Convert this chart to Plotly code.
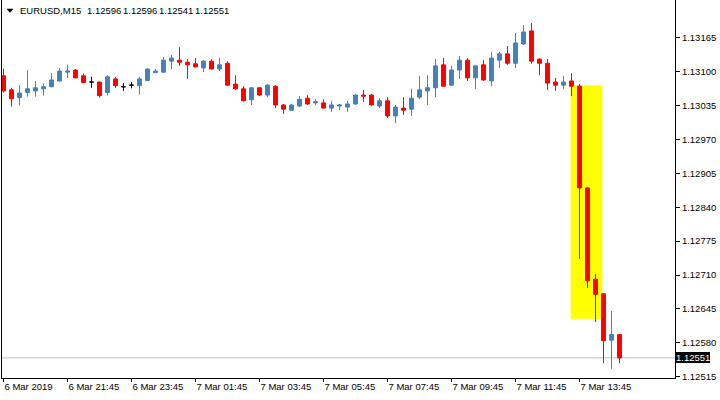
import plotly.graph_objects as go

# EURUSD M15, 6 Mar 2019 19:45 .. 7 Mar 2019 15:00 (one bar every 15 min)
opens = [
    1.13092, 1.13065, 1.13050, 1.13060, 1.13063, 1.13067, 1.13071, 1.13082,
    1.13099, 1.13103, 1.13092, 1.13080, 1.13080, 1.13060, 1.13086, 1.13071,
    1.13074, 1.13073, 1.13083, 1.13098, 1.13099, 1.13120, 1.13122, 1.13118,
    1.13115, 1.13107, 1.13120, 1.13105, 1.13116, 1.13076, 1.13067, 1.13046,
    1.13069, 1.13055, 1.13072, 1.13036, 1.13026, 1.13034, 1.13049, 1.13040,
    1.13040, 1.13030, 1.13034, 1.13032, 1.13038, 1.13055, 1.13055, 1.13034,
    1.13044, 1.13015, 1.13030, 1.13028, 1.13051, 1.13063, 1.13069, 1.13113,
    1.13074, 1.13103, 1.13122, 1.13088, 1.13113, 1.13082, 1.13122, 1.13134,
    1.13116, 1.13153, 1.13178, 1.13124, 1.13116, 1.13080, 1.13074, 1.13082,
    1.13072, 1.12877, 1.12702, 1.12674, 1.12585, 1.12596,
]
highs = [
    1.13106, 1.13069, 1.13074, 1.13103, 1.13082, 1.13077, 1.13097, 1.13107,
    1.13113, 1.13105, 1.13096, 1.13090, 1.13081, 1.13093, 1.13090, 1.13078,
    1.13080, 1.13090, 1.13106, 1.13105, 1.13128, 1.13132, 1.13147, 1.13124,
    1.13126, 1.13122, 1.13124, 1.13126, 1.13120, 1.13093, 1.13072, 1.13070,
    1.13070, 1.13076, 1.13074, 1.13038, 1.13038, 1.13053, 1.13055, 1.13047,
    1.13047, 1.13044, 1.13038, 1.13044, 1.13057, 1.13065, 1.13057, 1.13049,
    1.13051, 1.13036, 1.13051, 1.13067, 1.13092, 1.13093, 1.13124, 1.13126,
    1.13111, 1.13130, 1.13126, 1.13112, 1.13122, 1.13138, 1.13138, 1.13149,
    1.13174, 1.13189, 1.13193, 1.13125, 1.13124, 1.13088, 1.13092, 1.13097,
    1.13076, 1.12879, 1.12712, 1.12674, 1.12641, 1.12596,
]
lows = [
    1.13060, 1.13033, 1.13035, 1.13052, 1.13052, 1.13054, 1.13070, 1.13081,
    1.13088, 1.13087, 1.13078, 1.13069, 1.13050, 1.13054, 1.13069, 1.13063,
    1.13068, 1.13056, 1.13082, 1.13098, 1.13097, 1.13105, 1.13111, 1.13086,
    1.13108, 1.13099, 1.13104, 1.13101, 1.13072, 1.13065, 1.13043, 1.13036,
    1.13053, 1.13051, 1.13030, 1.13019, 1.13025, 1.13032, 1.13036, 1.13036,
    1.13029, 1.13023, 1.13026, 1.13023, 1.13036, 1.13042, 1.13035, 1.13030,
    1.13011, 1.13001, 1.13017, 1.13015, 1.13047, 1.13036, 1.13051, 1.13071,
    1.13072, 1.13086, 1.13082, 1.13067, 1.13082, 1.13072, 1.13107, 1.13113,
    1.13107, 1.13151, 1.13115, 1.13093, 1.13065, 1.13063, 1.13067, 1.13053,
    1.12741, 1.12685, 1.12620, 1.12541, 1.12530, 1.12541,
]
closes = [
    1.13063, 1.13048, 1.13059, 1.13067, 1.13069, 1.13071, 1.13084, 1.13101,
    1.13101, 1.13088, 1.13079, 1.13080, 1.13054, 1.13090, 1.13073, 1.13071,
    1.13074, 1.13086, 1.13105, 1.13101, 1.13122, 1.13126, 1.13118, 1.13113,
    1.13109, 1.13120, 1.13105, 1.13113, 1.13074, 1.13067, 1.13044, 1.13069,
    1.13055, 1.13074, 1.13036, 1.13028, 1.13036, 1.13047, 1.13038, 1.13042,
    1.13030, 1.13036, 1.13036, 1.13038, 1.13055, 1.13053, 1.13036, 1.13044,
    1.13015, 1.13032, 1.13026, 1.13049, 1.13065, 1.13069, 1.13111, 1.13072,
    1.13103, 1.13122, 1.13088, 1.13111, 1.13084, 1.13126, 1.13134, 1.13116,
    1.13155, 1.13176, 1.13120, 1.13116, 1.13078, 1.13074, 1.13080, 1.13072,
    1.12877, 1.12699, 1.12673, 1.12584, 1.12596, 1.12551,
]

# one time label every 8 bars (2 hours), MT4 style
time_labels = ["6 Mar 2019", "6 Mar 21:45", "6 Mar 23:45", "7 Mar 01:45",
               "7 Mar 03:45", "7 Mar 05:45", "7 Mar 07:45", "7 Mar 09:45",
               "7 Mar 11:45", "7 Mar 13:45"]
price_ticks = [1.12515, 1.12580, 1.12645, 1.12710, 1.12775, 1.12840,
               1.12905, 1.12970, 1.13035, 1.13100, 1.13165]

symbol = "EURUSD,M15"
last_price = 1.12551
# highlighted zone (bar index from/to, price from/to)
zone_bars = (70.9, 74.85)
zone_prices = (1.12626, 1.13074)

bars = list(range(len(opens)))
normal = [i for i in bars if opens[i] != closes[i]]
doji = [i for i in bars if opens[i] == closes[i]]

FONT = "Liberation Sans"
PLOT_W, PLOT_H = 673, 378  # plot area in px, used to place the header


def px_x(px):
    return (px - 2) / PLOT_W


def px_y(px):
    return 1 - px / PLOT_H


fig = go.Figure()
fig.add_trace(go.Candlestick(
    x=normal,
    open=[opens[i] for i in normal], high=[highs[i] for i in normal],
    low=[lows[i] for i in normal], close=[closes[i] for i in normal],
    increasing=dict(line=dict(color="#4682B4", width=1), fillcolor="#4682B4"),
    decreasing=dict(line=dict(color="#FF0000", width=1), fillcolor="#FF0000"),
    whiskerwidth=0, hoverinfo="skip",
))
fig.add_trace(go.Candlestick(
    x=doji,
    open=[opens[i] for i in doji], high=[highs[i] for i in doji],
    low=[lows[i] for i in doji], close=[closes[i] for i in doji],
    increasing=dict(line=dict(color="#000000", width=1), fillcolor="#000000"),
    decreasing=dict(line=dict(color="#000000", width=1), fillcolor="#000000"),
    whiskerwidth=0, hoverinfo="skip",
))

fig.add_shape(type="rect", xref="x", yref="y",
              x0=zone_bars[0], x1=zone_bars[1], y0=zone_prices[0], y1=zone_prices[1],
              fillcolor="#FFFF00", line=dict(width=0), layer="below")
fig.add_shape(type="line", xref="paper", yref="y", x0=0, x1=1,
              y0=last_price, y1=last_price,
              line=dict(color="#C0C0C0", width=1), layer="below")

fig.add_annotation(xref="paper", yref="y", x=1, y=last_price, xanchor="left",
                   xshift=1, text=f"{last_price:.5f}", showarrow=False,
                   bgcolor="#000000", borderpad=0, borderwidth=0,
                   font=dict(family=FONT, size=9.5, color="#FFFFFF"))

# header: small triangle, symbol and the last bar's O H L C
fig.add_shape(type="path", xref="paper", yref="paper",
              path=f"M {px_x(7)},{px_y(9)} L {px_x(13)},{px_y(9)} "
                   f"L {px_x(10)},{px_y(12.5)} Z",
              fillcolor="#000000", line=dict(color="#000000", width=0.5))
header = [symbol] + [f"{v:.5f}" for v in (opens[-1], highs[-1], lows[-1], closes[-1])]
header_px = [18, 85, 121, 157, 193]
for txt, px in zip(header, header_px):
    fig.add_annotation(xref="paper", yref="paper", x=px_x(px), y=px_y(10.7),
                       xanchor="left", yanchor="middle", text=txt, showarrow=False,
                       font=dict(family=FONT, size=9.5, color="#000000"))

fig.update_layout(
    width=720, height=400,
    margin=dict(l=2, r=45, t=0, b=22),
    paper_bgcolor="white", plot_bgcolor="white",
    showlegend=False,
    font=dict(family=FONT, size=9.5, color="#000000"),
    xaxis=dict(
        range=[-0.1875, 83.9375], rangeslider=dict(visible=False),
        tickvals=list(range(0, 8 * len(time_labels), 8)), ticktext=time_labels,
        ticks="outside", ticklen=3, tickcolor="#000000",
        ticklabelposition="outside right",
        showgrid=False, zeroline=False,
        showline=True, linecolor="#000000", linewidth=1,
    ),
    yaxis=dict(
        range=[1.125125, 1.132373], side="right",
        tickvals=price_ticks, tickformat=".5f",
        ticks="outside", ticklen=4, tickcolor="#000000",
        showgrid=False, zeroline=False,
        showline=True, mirror=True, linecolor="#000000", linewidth=1,
    ),
)

# the page body has a default 8px margin; drop it so the chart fills the window
fig.write_html("out.html", config={"displayModeBar": False},
               post_script="document.body.style.margin = '0px';")
